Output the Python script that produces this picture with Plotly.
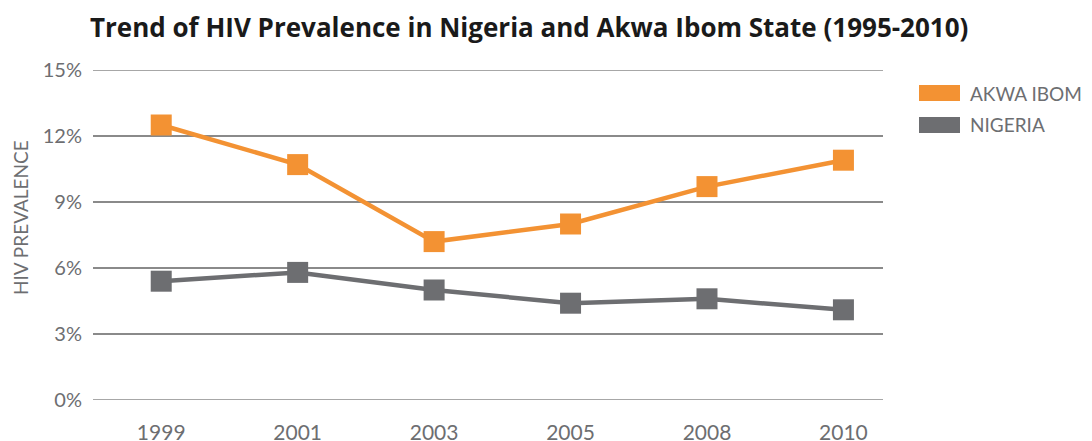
import plotly.graph_objects as go

years = ["1999", "2001", "2003", "2005", "2008", "2010"]
akwa_ibom = [12.5, 10.7, 7.2, 8.0, 9.7, 10.9]
nigeria = [5.4, 5.8, 5.0, 4.4, 4.6, 4.1]
y_ticks = [0, 3, 6, 9, 12, 15]
y_tick_labels = ["0%", "3%", "6%", "9%", "12%", "15%"]

ORANGE = "#F39233"
GREY = "#6D6E71"
TXT = "#6D6E71"
GRID = "#8a8a8a"

# page has 8px body margin: figure coordinates = page coordinates - 8
W, H = 1084, 433
PL, PR, PT, PB = 85, 875, 62, 392  # plot area in figure px
PW, PH = PR - PL, PB - PT

def px_x(xp):  # page x -> paper
    return (xp - 8 - PL) / PW

def px_y(yp):  # page y -> paper
    return (PB - (yp - 8)) / PH

fig = go.Figure()
# edge gridlines (0% and 15%) which plotly omits at the range ends
for v in (y_ticks[0], y_ticks[-1]):
    fig.add_shape(type="line", xref="paper", yref="y", x0=0, x1=1, y0=v, y1=v,
                  line=dict(color=GRID, width=1.5), layer="below")

fig.add_trace(go.Scatter(x=years, y=nigeria, mode="lines+markers", name="NIGERIA",
                         line=dict(color=GREY, width=4.5),
                         marker=dict(symbol="square", size=21, color=GREY)))
fig.add_trace(go.Scatter(x=years, y=akwa_ibom, mode="lines+markers", name="AKWA IBOM",
                         line=dict(color=ORANGE, width=4.5),
                         marker=dict(symbol="square", size=21, color=ORANGE)))

fig.update_layout(
    width=W, height=H,
    margin=dict(l=PL, r=W - PR, t=PT, b=H - PB, autoexpand=False),
    paper_bgcolor="white", plot_bgcolor="white",
    showlegend=False,
    title=dict(text="<b>Trend of HIV Prevalence in Nigeria and Akwa Ibom State (1995-2010)</b>",
               x=82 / W, xanchor="left", y=1 - 20 / H, yanchor="middle",
               pad=dict(l=0, r=0, t=0, b=0),
               font=dict(family="Open Sans", size=26, color="#1a1a1a")),
    font=dict(family="Lato", color=TXT),
)
fig.update_xaxes(type="category", range=[-0.5, 5.29], showgrid=False, zeroline=False,
                 showline=False, ticks="", tickfont=dict(size=21, color=TXT),
                 ticklabelstandoff=18, automargin=False)
fig.update_yaxes(range=[0, 15], tickvals=y_ticks, ticktext=y_tick_labels,
                 showgrid=True, gridcolor=GRID, gridwidth=1.5, zeroline=False,
                 showline=False, ticks="", tickfont=dict(size=20, color=TXT),
                 ticklabelstandoff=10, automargin=False)

fig.add_annotation(text="HIV PREVALENCE", xref="paper", yref="paper",
                   x=px_x(20), y=px_y(218), textangle=-90, showarrow=False,
                   font=dict(size=19, color=TXT), xanchor="center", yanchor="middle")

# legend drawn manually
legend_items = [("AKWA IBOM", ORANGE, 93), ("NIGERIA", GREY, 125)]
for label, col, yc in legend_items:
    fig.add_shape(type="rect", xref="paper", yref="paper",
                  x0=px_x(919), x1=px_x(960),
                  y0=px_y(yc + 8), y1=px_y(yc - 8),
                  fillcolor=col, line=dict(width=0))
    fig.add_annotation(text=label, xref="paper", yref="paper",
                       x=px_x(968), y=px_y(yc), showarrow=False,
                       xanchor="left", yanchor="middle",
                       font=dict(size=19, color=TXT))

fig.write_html("out.html")
